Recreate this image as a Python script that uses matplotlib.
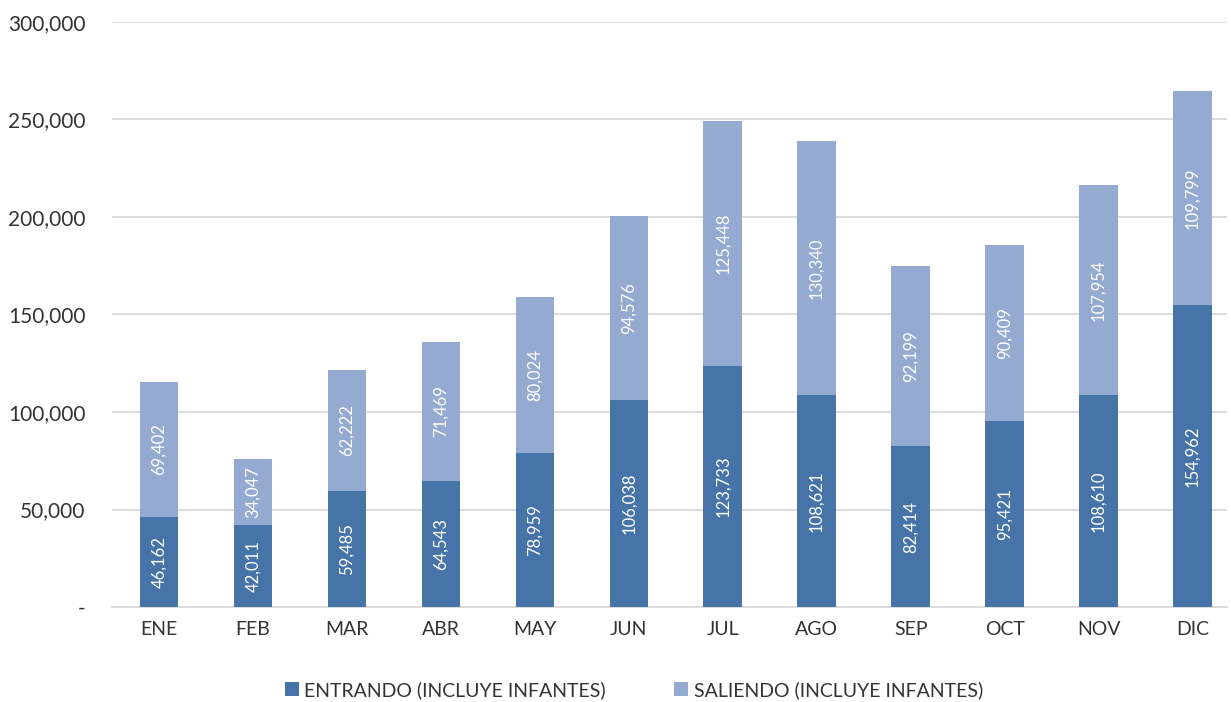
import numpy as np
import matplotlib
matplotlib.use("Agg")
import matplotlib.pyplot as plt
from matplotlib.ticker import FuncFormatter

meses = ["ENE", "FEB", "MAR", "ABR", "MAY", "JUN", "JUL", "AGO", "SEP", "OCT", "NOV", "DIC"]
entrando = [46162, 42011, 59485, 64543, 78959, 106038, 123733, 108621, 82414, 95421, 108610, 154962]
saliendo = [69402, 34047, 62222, 71469, 80024, 94576, 125448, 130340, 92199, 90409, 107954, 109799]

plt.rcParams["font.family"] = ["Lato", "DejaVu Sans"]
c_ent = "#4673A8"
c_sal = "#95AAD1"

fig = plt.figure(figsize=(12.31, 7.02), dpi=100)
ax = fig.add_axes([0.091, 0.1353, 0.906, 0.8334])

x = np.arange(len(meses))
w = 0.41
b1 = ax.bar(x, entrando, w, color=c_ent, label="ENTRANDO (INCLUYE INFANTES)", zorder=3)
b2 = ax.bar(x, saliendo, w, bottom=entrando, color=c_sal, label="SALIENDO (INCLUYE INFANTES)", zorder=3)

for i in range(len(meses)):
    ax.text(x[i], entrando[i] / 2, f"{entrando[i]:,}", rotation=90, ha="center", va="center",
            color="white", fontsize=12, zorder=4)
    ax.text(x[i], entrando[i] + saliendo[i] / 2, f"{saliendo[i]:,}", rotation=90, ha="center",
            va="center", color="white", fontsize=12, zorder=4)

ax.set_ylim(0, 300000)
ax.set_xlim(-0.5, 11.37)
ax.set_yticks(np.arange(0, 300001, 50000))
ax.yaxis.set_major_formatter(FuncFormatter(lambda v, p: "-" if v == 0 else f"{int(v):,}"))
ax.set_xticks(x)
ax.set_xticklabels(meses)
ax.tick_params(axis="both", length=0, labelsize=14, colors="#333333")
ax.tick_params(axis="y", labelsize=15, pad=19)
ax.tick_params(axis="x", pad=10)
ax.grid(axis="y", color="#D9D9D9", lw=1.3, zorder=0)
for s in ["top", "right", "left"]:
    ax.spines[s].set_visible(False)
ax.spines["bottom"].set_color("#D9D9D9")
ax.spines["bottom"].set_linewidth(1.3)

fig.legend(handles=[b1, b2], loc="center", bbox_to_anchor=(0.515, 0.017), ncol=2, frameon=False,
           fontsize=14, handlelength=0.7, handleheight=0.7, columnspacing=3.5, handletextpad=0.3,
           labelcolor="#333333")

fig.savefig("out.png", dpi=100)
